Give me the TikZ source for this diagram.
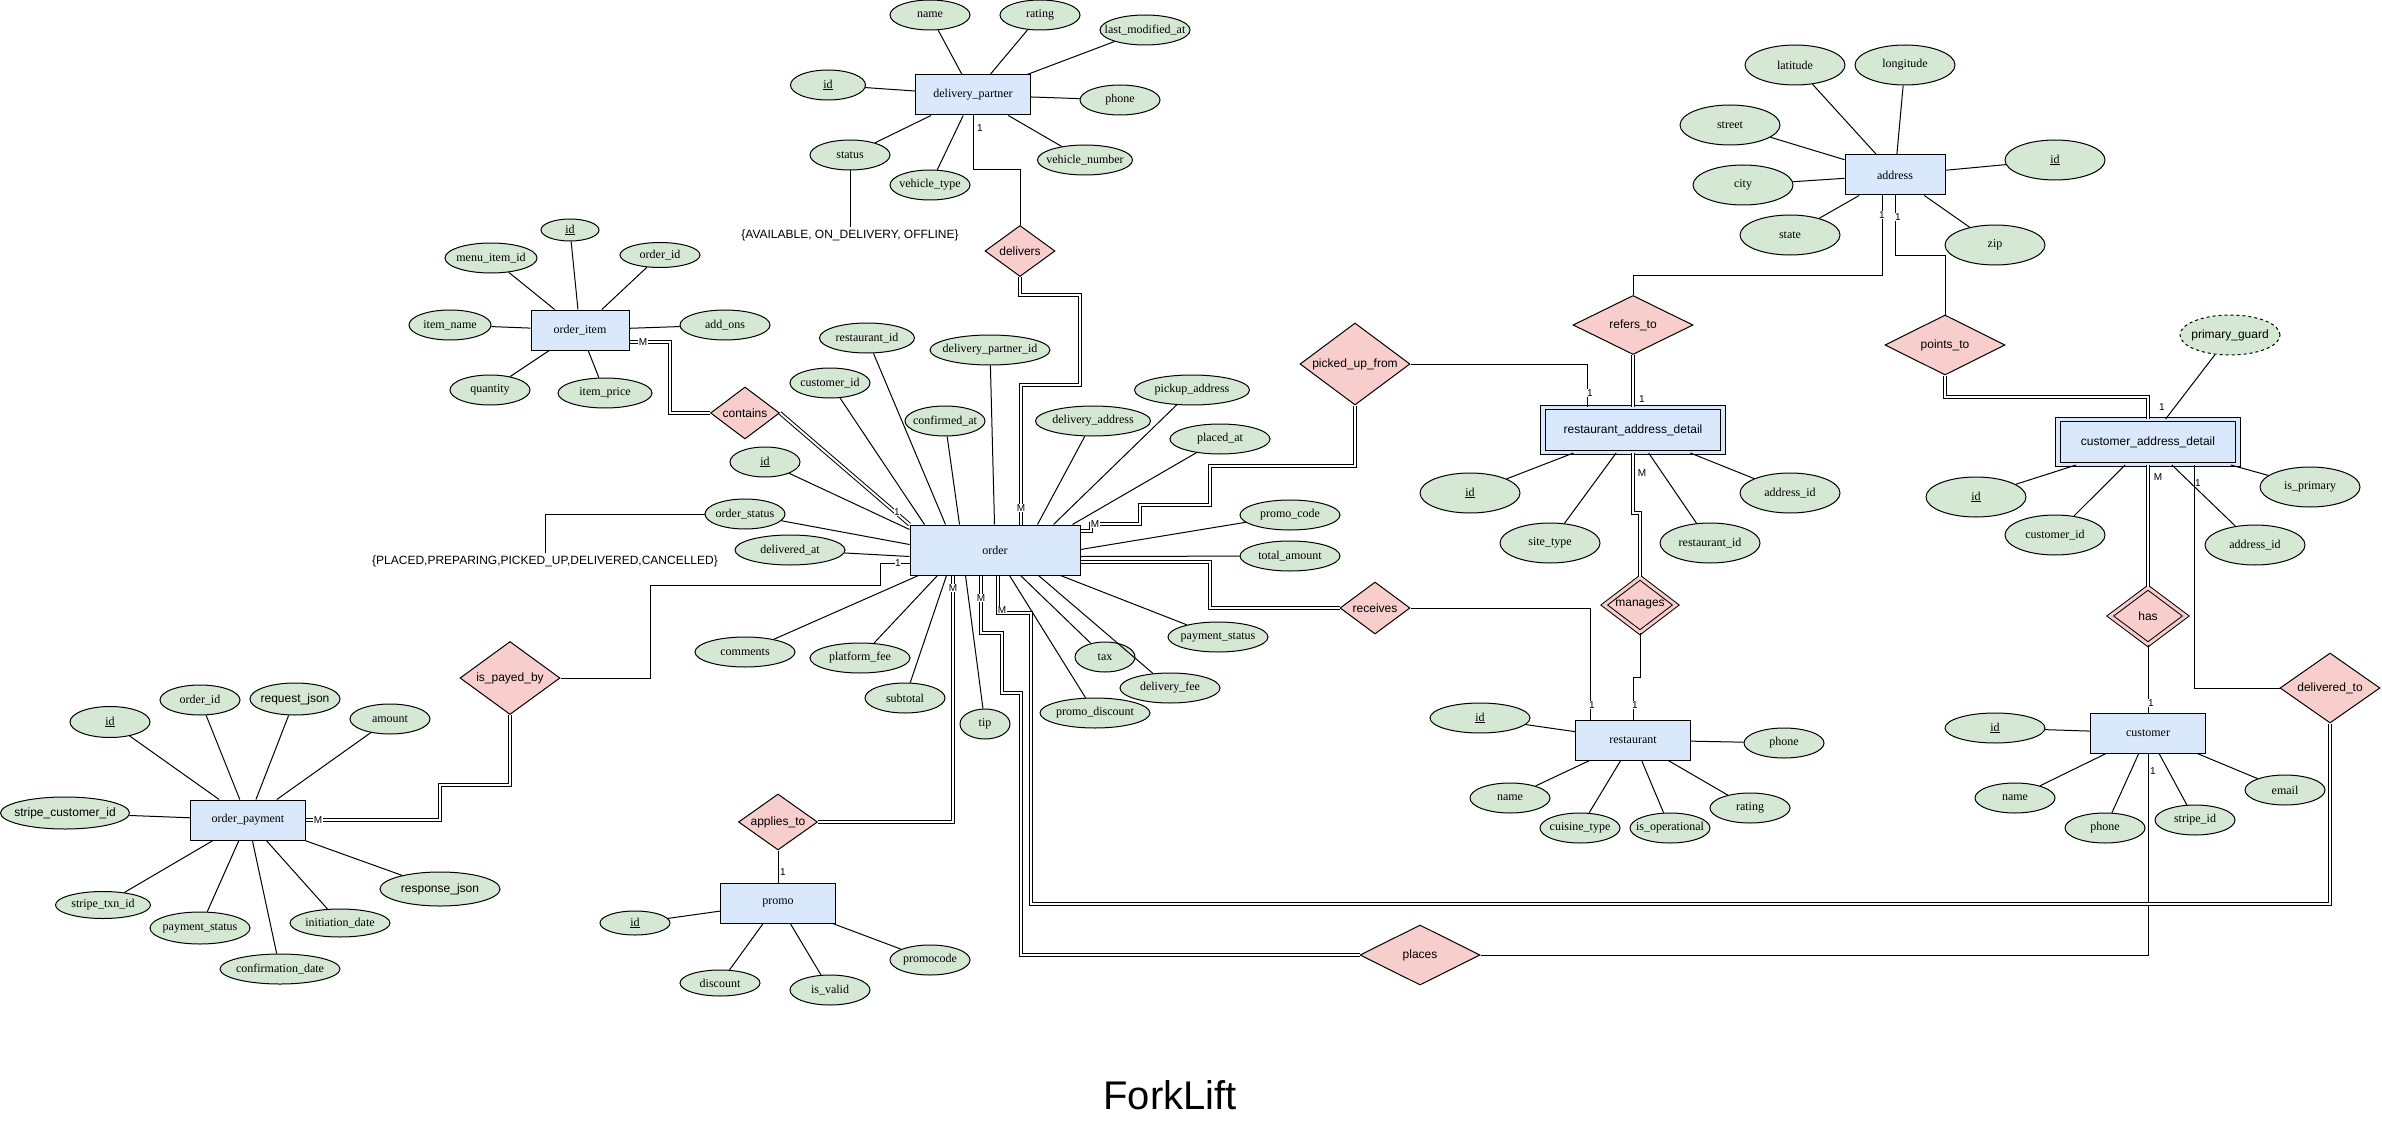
\documentclass[tikz,border=0pt]{standalone}
\usepackage{fontspec}
\setmainfont{Liberation Serif}
\setsansfont{Liberation Sans}
\usetikzlibrary{shapes.geometric}

\definecolor{entblue}{HTML}{DAE8FC}
\definecolor{attrgreen}{HTML}{D5E8D4}
\definecolor{relpink}{HTML}{F8CECC}
\newcommand{\erfont}{\fontsize{12}{14}\selectfont}

\tikzset{
  entity/.style={draw, fill=entblue, minimum width=115pt, minimum height=40pt, inner sep=2pt, font=\erfont},
  weak/.style={entity, double=entblue, double distance=3.5pt, minimum width=180pt, minimum height=45pt, font=\sffamily\erfont},
  attr/.style={ellipse, draw, fill=attrgreen, minimum width=#1, minimum height=30pt, inner sep=0pt},
  rel/.style={diamond, draw, fill=relpink, aspect=1.4, inner sep=0pt, font=\sffamily\erfont},
  wrel/.style={rel, double=relpink, double distance=3pt},
  dbl/.style={double, double distance=2pt},
  card/.style={font=\sffamily\fontsize{10}{12}\selectfont, fill=white, inner sep=0.5pt},
  enum/.style={font=\sffamily\erfont, inner sep=2pt}
}

\begin{document}
\begin{tikzpicture}[x=1pt, y=-1pt, line width=1pt, every label/.style={font=\erfont}]
    \useasboundingbox (0,0) rectangle (2382,1126);

    % delivery partner
    \node[entity] (dp) at (973,95) {delivery\_partner};
    \node[attr=80pt, label=center:name] (dpName) at (930,15) {};
    \node[attr=80pt, label=center:rating] (dpRating) at (1040,15) {};
    \node[attr=90pt, label=center:last\_modified\_at] (dpModified) at (1145,30) {};
    \node[attr=75pt, label=center:\underline{id}] (dpId) at (828,85) {};
    \node[attr=80pt, label=center:phone] (dpPhone) at (1120,100) {};
    \node[attr=80pt, label=center:status] (dpStatus) at (850,155) {};
    \node[attr=80pt, label=center:vehicle\_type] (dpType) at (930,185) {};
    \node[attr=95pt, label=center:vehicle\_number] (dpNumber) at (1085,160) {};
    \node[enum] (statusVals) at (850,235) {\{AVAILABLE, ON\_DELIVERY, OFFLINE\}};

    % order item
    \node[entity, minimum width=98pt] (oi) at (580,330) {order\_item};
    \node[attr=58pt, minimum height=22pt, label=center:\underline{id}] (oiId) at (570,230) {};
    \node[attr=92pt, label=center:menu\_item\_id] (oiMenu) at (491,258) {};
    \node[attr=80pt, minimum height=25pt, label=center:order\_id] (oiOrder) at (660,255) {};
    \node[attr=82pt, label=center:item\_name] (oiName) at (450,325) {};
    \node[attr=90pt, label=center:add\_ons] (oiAddOns) at (725,325) {};
    \node[attr=80pt, label=center:quantity] (oiQty) at (490,390) {};
    \node[attr=94pt, label=center:item\_price] (oiPrice) at (605,393) {};

    % order
    \node[entity, minimum width=170pt, minimum height=50pt] (order) at (995,550) {order};
    \node[attr=95pt, label=center:restaurant\_id] (oRestaurant) at (867,338) {};
    \node[attr=120pt, label=center:delivery\_partner\_id] (oPartner) at (990,350) {};
    \node[attr=80pt, label=center:customer\_id] (oCustomer) at (830,383) {};
    \node[attr=80pt, label=center:confirmed\_at] (oConfirmed) at (945,421) {};
    \node[attr=115pt, label=center:delivery\_address] (oDelAddr) at (1093,421) {};
    \node[attr=115pt, label=center:pickup\_address] (oPickup) at (1192,390) {};
    \node[attr=100pt, label=center:placed\_at] (oPlaced) at (1220,439) {};
    \node[attr=100pt, label=center:promo\_code] (oPromoCode) at (1290,515) {};
    \node[attr=100pt, label=center:total\_amount] (oTotal) at (1290,556) {};
    \node[attr=70pt, label=center:\underline{id}] (oId) at (765,462) {};
    \node[attr=80pt, label=center:order\_status] (oStatus) at (745,514) {};
    \node[attr=110pt, label=center:delivered\_at] (oDelivered) at (790,550) {};
    \node[attr=100pt, label=center:comments] (oComments) at (745,652) {};
    \node[attr=100pt, label=center:platform\_fee] (oPlatform) at (860,658) {};
    \node[attr=80pt, label=center:subtotal] (oSubtotal) at (905,698) {};
    \node[attr=50pt, label=center:tip] (oTip) at (985,724) {};
    \node[attr=60pt, label=center:tax] (oTax) at (1105,657) {};
    \node[attr=110pt, label=center:promo\_discount] (oPromoDisc) at (1095,713) {};
    \node[attr=100pt, label=center:delivery\_fee] (oDelFee) at (1170,688) {};
    \node[attr=100pt, label=center:payment\_status] (oPayStatus) at (1218,637) {};
    \node[enum] (orderVals) at (545,561) {\{PLACED,PREPARING,PICKED\_UP,DELIVERED,CANCELLED\}};

    % order payment
    \node[entity] (op) at (248,820) {order\_payment};
    \node[attr=80pt, minimum height=31pt, label=center:\underline{id}] (opId) at (110,722) {};
    \node[attr=80pt, label=center:order\_id] (opOrder) at (200,700) {};
    \node[attr=90pt, minimum height=32pt, label=center:{\sffamily request\_json}] (opRequest) at (295,699) {};
    \node[attr=80pt, label=center:amount] (opAmount) at (390,719) {};
    \node[attr=129pt, minimum height=32pt, label=center:{\sffamily stripe\_customer\_id}] (opStripeCust) at (65,813) {};
    \node[attr=120pt, minimum height=34pt, label=center:{\sffamily response\_json}] (opResponse) at (440,889) {};
    \node[attr=95pt, minimum height=27pt, label=center:stripe\_txn\_id] (opTxn) at (103,905) {};
    \node[attr=100pt, minimum height=32pt, label=center:payment\_status] (opPayStatus) at (200,928) {};
    \node[attr=100pt, minimum height=28pt, label=center:initiation\_date] (opInit) at (340,923) {};
    \node[attr=120pt, label=center:confirmation\_date] (opConfirm) at (280,969) {};

    % promo
    \node[entity] (promo) at (778,903) {promo};
    \node[attr=70pt, minimum height=24pt, label=center:\underline{id}] (prId) at (635,923) {};
    \node[attr=80pt, minimum height=26pt, label=center:discount] (prDiscount) at (720,983) {};
    \node[attr=80pt, label=center:is\_valid] (prValid) at (830,990) {};
    \node[attr=80pt, label=center:promocode] (prCode) at (930,960) {};

    % restaurant address detail
    \node[weak] (rad) at (1633,430) {restaurant\_address\_detail};
    \node[attr=100pt, minimum height=40pt, label=center:\underline{id}] (radId) at (1470,493) {};
    \node[attr=100pt, minimum height=40pt, label=center:site\_type] (radSite) at (1550,543) {};
    \node[attr=100pt, minimum height=40pt, label=center:restaurant\_id] (radRest) at (1710,543) {};
    \node[attr=100pt, minimum height=40pt, label=center:address\_id] (radAddr) at (1790,493) {};

    % restaurant
    \node[entity] (rest) at (1633,740) {restaurant};
    \node[attr=100pt, label=center:\underline{id}] (restId) at (1480,718) {};
    \node[attr=80pt, label=center:phone] (restPhone) at (1784,743) {};
    \node[attr=80pt, label=center:name] (restName) at (1510,798) {};
    \node[attr=80pt, label=center:rating] (restRating) at (1750,808) {};
    \node[attr=80pt, label=center:cuisine\_type] (restCuisine) at (1580,828) {};
    \node[attr=80pt, label=center:is\_operational] (restOper) at (1670,828) {};

    % address
    \node[entity, minimum width=100pt] (addr) at (1895,175) {address};
    \node[attr=100pt, minimum height=40pt, label=center:latitude] (adLat) at (1795,65) {};
    \node[attr=100pt, minimum height=40pt, label=center:longitude] (adLong) at (1905,65) {};
    \node[attr=100pt, minimum height=40pt, label=center:street] (adStreet) at (1730,125) {};
    \node[attr=100pt, minimum height=40pt, label=center:city] (adCity) at (1743,185) {};
    \node[attr=100pt, minimum height=40pt, label=center:state] (adState) at (1790,235) {};
    \node[attr=100pt, minimum height=40pt, label=center:\underline{id}] (adId) at (2055,160) {};
    \node[attr=100pt, minimum height=40pt, label=center:zip] (adZip) at (1995,245) {};

    % customer address detail
    \node[weak] (cad) at (2148,442) {customer\_address\_detail};
    \node[attr=100pt, minimum height=40pt, dashed, label=center:{\sffamily primary\_guard}] (cadGuard) at (2230,335) {};
    \node[attr=100pt, minimum height=40pt, label=center:\underline{id}] (cadId) at (1976,497) {};
    \node[attr=100pt, minimum height=40pt, label=center:customer\_id] (cadCust) at (2055,535) {};
    \node[attr=100pt, minimum height=40pt, label=center:address\_id] (cadAddr) at (2255,545) {};
    \node[attr=100pt, minimum height=40pt, label=center:is\_primary] (cadPrimary) at (2310,487) {};

    % customer
    \node[entity] (cust) at (2148,733) {customer};
    \node[attr=100pt, label=center:\underline{id}] (cuId) at (1995,728) {};
    \node[attr=80pt, label=center:name] (cuName) at (2015,798) {};
    \node[attr=80pt, label=center:phone] (cuPhone) at (2105,828) {};
    \node[attr=80pt, label=center:stripe\_id] (cuStripe) at (2195,820) {};
    \node[attr=80pt, label=center:email] (cuEmail) at (2285,790) {};

    % relationships
    \node[rel, minimum width=70pt, minimum height=51pt] (delivers) at (1020,251) {delivers};
    \node[rel, minimum width=69pt, minimum height=52pt] (contains) at (745,413) {contains};
    \node[rel, minimum width=100pt, minimum height=73pt] (payed) at (510,678) {is\_payed\_by};
    \node[rel, minimum width=79pt, minimum height=56pt] (applies) at (778,822) {applies\_to};
    \node[rel, minimum width=110pt, minimum height=82pt] (picked) at (1355,364) {picked\_up\_from};
    \node[rel, minimum width=70pt, minimum height=52pt] (receives) at (1375,608) {receives};
    \node[rel, minimum width=120pt, minimum height=60pt] (places) at (1420,955) {places};
    \node[rel, minimum width=120pt, minimum height=59pt] (refers) at (1633,325) {refers\_to};
    \node[wrel, minimum width=72pt, minimum height=55pt] (manages) at (1640,605) {manages};
    \node[rel, minimum width=120pt, minimum height=60pt] (points) at (1945,345) {points\_to};
    \node[wrel, minimum width=76pt, minimum height=57pt] (has) at (2148,616) {has};
    \node[rel, minimum width=100pt, minimum height=70pt] (delivered) at (2330,688) {delivered\_to};

    \node[font=\sffamily\fontsize{40}{48}\selectfont] (title) at (1170,1095) {ForkLift};

    % attribute lines
    \foreach \a in {dpName,dpRating,dpModified,dpId,dpPhone,dpStatus,dpType,dpNumber}
        \draw (\a) -- (dp);
    \foreach \a in {oiId,oiMenu,oiOrder,oiName,oiAddOns,oiQty,oiPrice}
        \draw (\a) -- (oi);
    \foreach \a/\s in {oCustomer/15,oRestaurant/36,oConfirmed/50,oPartner/85,oDelAddr/128,oPickup/144,oPlaced/163}
        \draw (\a) -- ([xshift=\s pt]order.north west);
    \foreach \a/\s in {oComments/9,oPlatform/28,oSubtotal/37,oTip/56,oPromoDisc/100,oTax/111,oDelFee/129,oPayStatus/151}
        \draw (\a) -- ([xshift=\s pt]order.south west);
    \foreach \a/\s in {oId/5,oStatus/20,oDelivered/32}
        \draw (\a) -- ([yshift=-\s pt]order.north west);
    \foreach \a/\s in {oPromoCode/25,oTotal/32}
        \draw (\a) -- ([yshift=-\s pt]order.north east);
    \foreach \a in {opId,opOrder,opRequest,opAmount,opStripeCust,opResponse,opTxn,opPayStatus,opInit,opConfirm}
        \draw (\a) -- (op);
    \foreach \a in {prId,prDiscount,prValid,prCode}
        \draw (\a) -- (promo);
    \foreach \a in {radId,radSite,radRest,radAddr}
        \draw (\a) -- (rad);
    \foreach \a in {restId,restPhone,restName,restRating,restCuisine,restOper}
        \draw (\a) -- (rest);
    \foreach \a in {adLat,adLong,adStreet,adCity,adState,adId,adZip}
        \draw (\a) -- (addr);
    \foreach \a in {cadGuard,cadId,cadCust,cadAddr,cadPrimary}
        \draw (\a) -- (cad);
    \foreach \a in {cuId,cuName,cuPhone,cuStripe,cuEmail}
        \draw (\a) -- (cust);
    \draw (dpStatus) -- (statusVals);
    \draw (oStatus.west) -| (orderVals.north);

    % relationship lines
    \draw (dp.south) |- (1020,170) -- (delivers.north);
    \draw[dbl] (delivers.south) |- (1080,295) |- (1021,385) -- ([xshift=26pt]order.north);
    \draw[dbl] ([yshift=-12pt]oi.east) -| (670,413) -- (contains.west);
    \draw[dbl] (contains.east) -- (order.north west);
    \draw ([yshift=-13pt]order.west) -| (880,585) -| (650,678) -- (payed.east);
    \draw[dbl] (payed.south) |- (440,785) |- (op.east);
    \draw[dbl] ([xshift=-42pt]order.south) |- (applies.east);
    \draw (applies.south) -- (promo.north);
    \draw[dbl] ([xshift=-14pt]order.south) |- (1002,633) |- (1021,693) |- (places.west);
    \draw (places.east) -| (cust.south);
    \draw[dbl] ([xshift=3pt]order.south) |- (1031,613) |- (2330,904) -- (delivered.south);
    \draw (delivered.west) -| ([xshift=46pt]cad.south);
    \draw[dbl] ([yshift=19pt]order.east) -| (1091,524) -| (1140,505) -| (1210,466) -| (picked.south);
    \draw (picked.east) -| ([xshift=-46pt]rad.north);
    \draw[dbl] (refers.south) -- (rad.north);
    \draw ([xshift=-13pt]addr.south) |- (1633,275) -- (refers.north);
    \draw (addr.south) |- (1945,255) -- (points.north);
    \draw[dbl] (points.south) |- (2148,397) -- (cad.north);
    \draw[dbl] (cad.south) -- (has.north);
    \draw (has.south) -- (cust.north);
    \draw[dbl] (rad.south) |- (1640,513) -- (manages.north);
    \draw (manages.south) |- (1633,677) -- (rest.north);
    \draw[dbl] ([yshift=-12pt]order.east) -| (1210,608) -- (receives.west);
    \draw (receives.east) -| ([xshift=-43pt]rest.north);

    % cardinalities
    \node[card] (cDp) at (980,128) {1};
    \node[card] (cDelivers) at (1021,508) {M};
    \node[card] (cOi) at (643,342) {M};
    \node[card] (cContains) at (897,512) {1};
    \node[card] (cPayed) at (898,563) {1};
    \node[card] (cOp) at (318,820) {M};
    \node[card] (cApplies) at (953,588) {M};
    \node[card] (cPromo) at (783,872) {1};
    \node[card] (cPlaces) at (981,598) {M};
    \node[card] (cCust) at (2153,771) {1};
    \node[card] (cDelivered) at (1002,610) {M};
    \node[card] (cCad) at (2198,483) {1};
    \node[card] (cPicked) at (1095,524) {M};
    \node[card] (cRadPicked) at (1590,393) {1};
    \node[card] (cRadRefers) at (1642,399) {1};
    \node[card] (cAddrRefers) at (1882,215) {1};
    \node[card] (cAddrPoints) at (1898,217) {1};
    \node[card] (cCadPoints) at (2162,407) {1};
    \node[card] (cCadHas) at (2158,477) {M};
    \node[card] (cCustHas) at (2151,703) {1};
    \node[card] (cRadManages) at (1642,473) {M};
    \node[card] (cRestManages) at (1635,705) {1};
    \node[card] (cRestReceives) at (1592,705) {1};
\end{tikzpicture}
\end{document}
